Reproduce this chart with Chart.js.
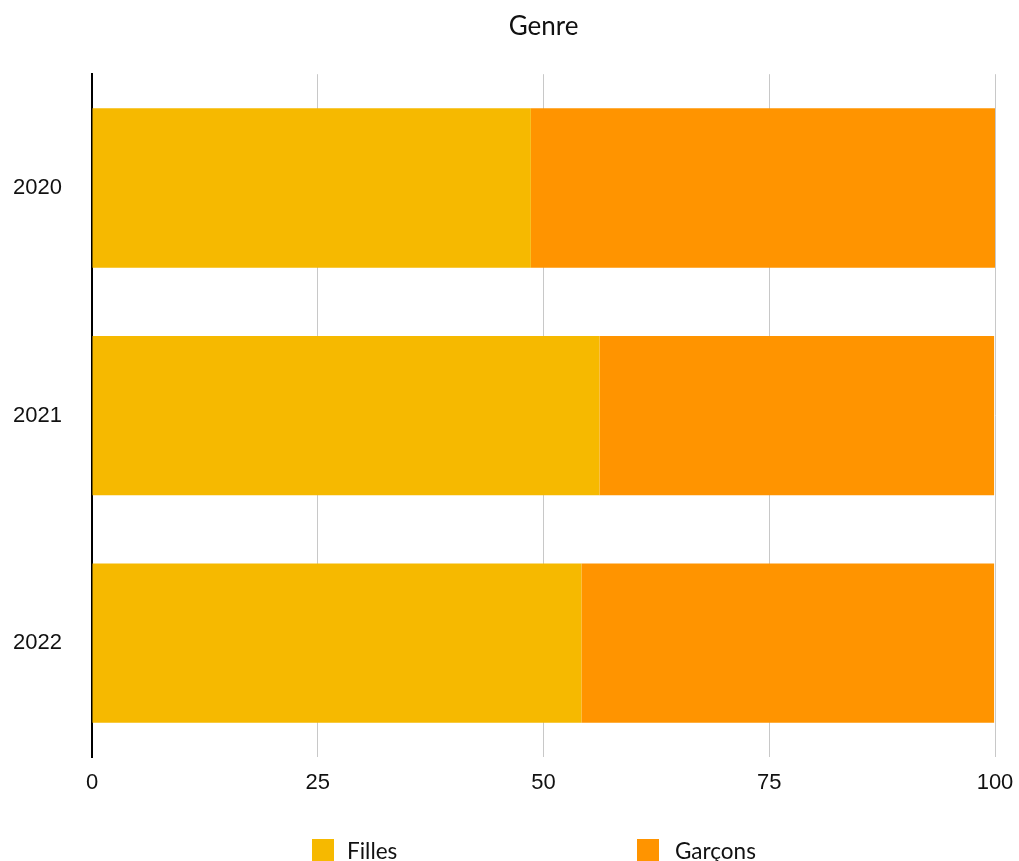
<!DOCTYPE html>
<html>
<head>
<meta charset="utf-8">
<script src="https://cdn.jsdelivr.net/npm/chart.js@4/dist/chart.umd.min.js"></script>
<style>
  body { margin: 0; background: #fff; }
  #wrap { position: relative; width: 1019px; height: 861px; }
  .legend { position: absolute; top: 839px; font-family: Lato, "Noto Sans", sans-serif; font-size: 22.5px; color: #111; line-height: 22px; }
  .legend span.box { position: absolute; top: 0; width: 22px; height: 22px; }
</style>
</head>
<body>
<div id="wrap">
  <canvas id="genreChart" width="1019" height="861"></canvas>
  <div class="legend" style="left:312px"><span class="box" style="background:#F6B900"></span><span style="position:absolute;left:35px;top:1px;white-space:nowrap">Filles</span></div>
  <div class="legend" style="left:637px"><span class="box" style="background:#FF9400"></span><span style="position:absolute;left:38px;top:1px;white-space:nowrap">Garçons</span></div>
</div>
<script>
const years = ['2020', '2021', '2022'];
const filles = [48.6, 56.2, 54.2];
const garcons = [51.4, 43.7, 45.7];
const xTicks = [0, 25, 50, 75, 100];

const tickFont = { family: '"Liberation Sans", Arial, sans-serif', size: 22 };

new Chart(document.getElementById('genreChart').getContext('2d'), {
    type: 'bar',
    data: {
        labels: years,
        datasets: [
            { label: 'Filles', data: filles, backgroundColor: '#F6B900' },
            { label: 'Garçons', data: garcons, backgroundColor: '#FF9400' }
        ]
    },
    options: {
        indexAxis: 'y',
        responsive: false,
        animation: false,
        layout: { padding: { right: 24 } },
        categoryPercentage: 0.7,
        barPercentage: 1,
        plugins: {
            legend: { display: false },
            tooltip: { enabled: false },
            title: {
                display: true,
                text: 'Genre',
                fullSize: false,
                color: '#111',
                font: { family: 'Lato, "Noto Sans", sans-serif', size: 26, weight: 'normal' },
                padding: { top: 11, bottom: 32 }
            }
        },
        scales: {
            x: {
                stacked: true,
                min: 0,
                max: 100,
                afterBuildTicks: axis => { axis.ticks = xTicks.map(v => ({ value: v })); },
                afterFit: axis => { axis.height = 104; axis.paddingLeft = 0; axis.paddingRight = 0; },
                grid: { color: '#c8c8c8', lineWidth: 1, drawTicks: false },
                border: { display: false },
                ticks: { color: '#111', font: tickFont, padding: 13, maxRotation: 0 }
            },
            y: {
                stacked: true,
                afterFit: axis => { axis.width = 92; },
                grid: { display: false, drawTicks: false },
                border: { display: true, color: '#000', width: 2 },
                ticks: { color: '#111', font: tickFont, padding: 30 }
            }
        }
    }
});
</script>
</body>
</html>
